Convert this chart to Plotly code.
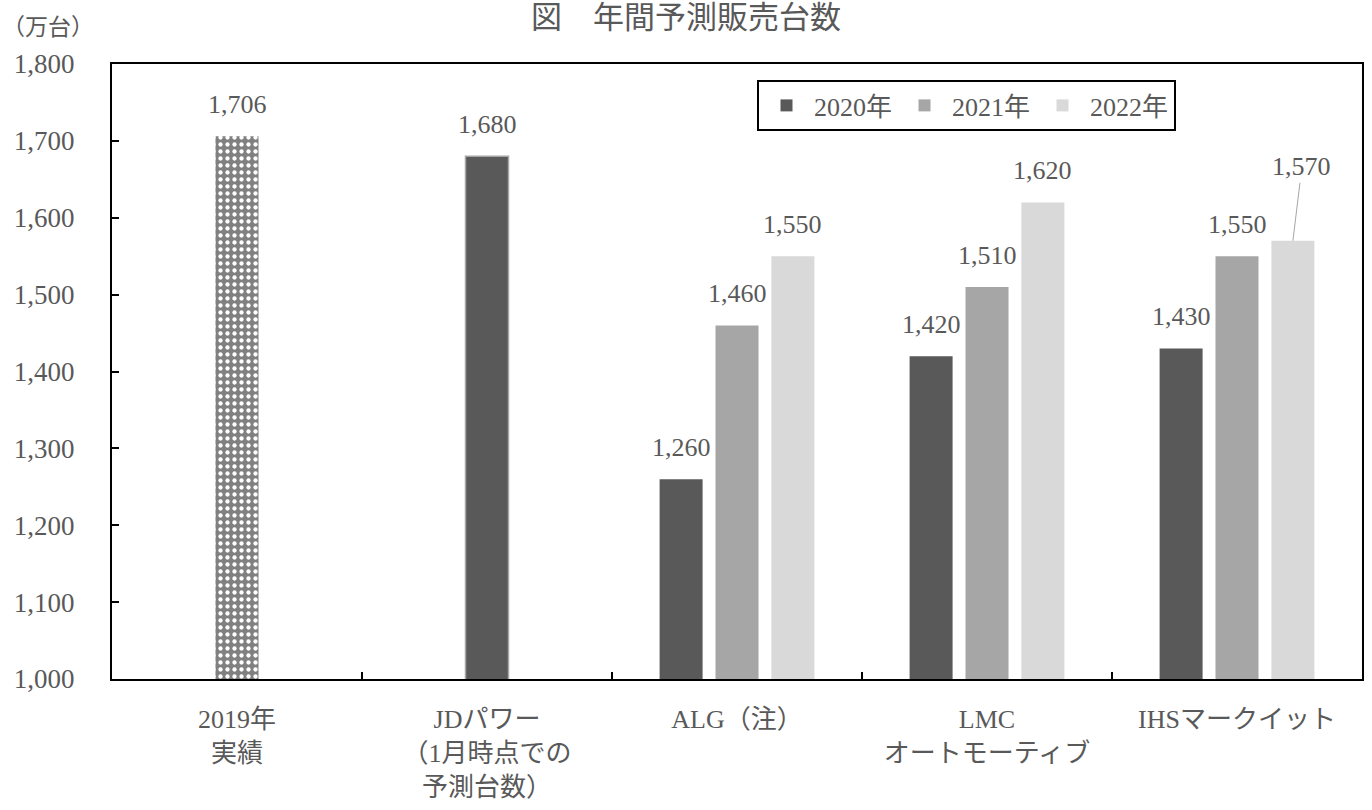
import plotly.graph_objects as go

# ---- data ----
categories = ["2019年<br>実績", "JDパワー<br>（1月時点での<br>予測台数）",
              "ALG（注）", "LMC<br>オートモーティブ", "IHSマークイット"]
actual_2019 = [1706]
jd_power = [1680]
forecast_sources = ["ALG（注）", "LMC<br>オートモーティブ", "IHSマークイット"]
series_names = ["2020年", "2021年", "2022年"]
v2020 = [1260, 1420, 1430]
v2021 = [1460, 1510, 1550]
v2022 = [1550, 1620, 1570]
y_ticks = [1000, 1100, 1200, 1300, 1400, 1500, 1600, 1700, 1800]

# ---- style ----
FONT = "Liberation Serif, Noto Sans CJK JP, serif"
TXT = "#595959"
FS = 26
colors = ["#595959", "#a6a6a6", "#d9d9d9"]
BW = 0.172        # bar width in category units
SLOT = 0.2236     # spacing of grouped bars

fig = go.Figure()

fig.add_trace(go.Bar(
    x=[categories[0]], y=actual_2019, width=BW, offset=-BW / 2,
    marker=dict(color="#808080",
                pattern=dict(shape=".", fgcolor="white", bgcolor="#808080",
                             size=7, solidity=0.3, fillmode="replace"),
                line=dict(width=0)),
    showlegend=False, hoverinfo="y"))

fig.add_trace(go.Bar(
    x=[categories[1]], y=jd_power, width=BW, offset=-BW / 2,
    marker=dict(color="#595959", line=dict(color="#a6a6a6", width=1.5)),
    showlegend=False, hoverinfo="y"))

series_vals = [v2020, v2021, v2022]
centers = [-SLOT, 0.0, SLOT]
for name, vals, col, c in zip(series_names, series_vals, colors, centers):
    fig.add_trace(go.Bar(
        x=forecast_sources, y=vals, name=name, width=BW, offset=c - BW / 2,
        marker=dict(color=col, line=dict(width=0)), hoverinfo="y"))

# ---- data labels ----
annotations = []
def label(xpos, val, leader=False):
    txt = f"{val:,}"
    if leader:
        annotations.append(dict(
            x=xpos, y=val, xref="x", yref="y", text=txt, showarrow=True,
            arrowhead=0, arrowwidth=1, arrowcolor="#a6a6a6", ax=9, ay=-74,
            standoff=0, font=dict(family=FONT, size=FS, color=TXT)))
    else:
        annotations.append(dict(
            x=xpos, y=val, xref="x", yref="y", text=txt, showarrow=False,
            yanchor="bottom", yshift=15,
            font=dict(family=FONT, size=FS, color=TXT)))

label(0, actual_2019[0])
label(1, jd_power[0])
for si, (vals, c) in enumerate(zip(series_vals, centers)):
    for ci, v in enumerate(vals):
        idx = categories.index(forecast_sources[ci])
        leader = (series_names[si] == "2022年" and forecast_sources[ci] == "IHSマークイット")
        label(idx + c, v, leader)

annotations.append(dict(
    text="（万台）", xref="paper", yref="paper", x=-0.0895, y=1.06,
    xanchor="left", yanchor="middle", showarrow=False,
    font=dict(family=FONT, size=23, color=TXT)))

fig.update_layout(
    width=1372, height=810,
    margin=dict(l=112, r=8, t=64, b=131),
    paper_bgcolor="white", plot_bgcolor="white",
    barmode="overlay",
    font=dict(family=FONT, size=FS, color=TXT),
    title=dict(text="図　年間予測販売台数", x=0.5, xanchor="center",
               y=1 - 17 / 810, yanchor="middle", yref="container",
               font=dict(family=FONT, size=31, color=TXT)),
    legend=dict(orientation="h", x=0.516, y=0.974, xanchor="left", yanchor="top",
                bordercolor="black", borderwidth=2, bgcolor="white",
                font=dict(family=FONT, size=FS, color=TXT),
                itemwidth=45, tracegroupgap=0),
    annotations=annotations,
    xaxis=dict(type="category", categoryorder="array", categoryarray=categories,
               range=[-0.5, 4.5], showline=True, linecolor="black", linewidth=2,
               mirror=True, ticks="inside", tickson="boundaries", ticklen=7,
               tickcolor="black", tickwidth=1.5, showgrid=False,
               ticklabelstandoff=16, tickfont=dict(family=FONT, size=FS, color=TXT)),
    yaxis=dict(range=[1000, 1800], tickvals=y_ticks, tickformat=",d",
               showline=True, linecolor="black", linewidth=2, mirror=True,
               ticks="inside", ticklen=7, tickcolor="black", tickwidth=1.5,
               showgrid=False, zeroline=False, ticklabelstandoff=30,
               tickfont=dict(family=FONT, size=27, color=TXT)),
)

fig.write_html("out.html", config={"displayModeBar": False},
               post_script="document.body.style.margin='0';")
